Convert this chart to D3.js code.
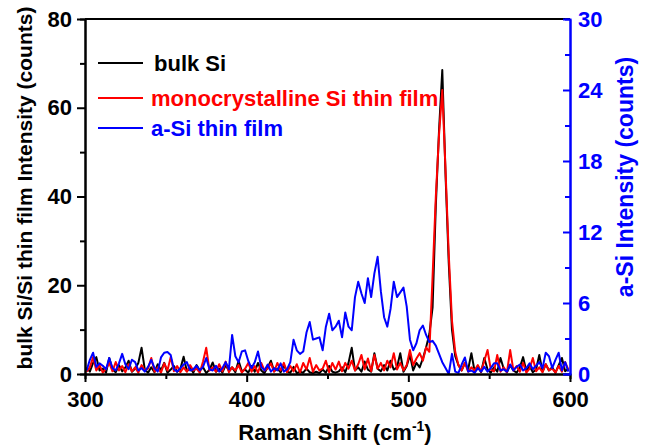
<!DOCTYPE html>
<html>
<head>
<meta charset="utf-8">
<script src="https://cdn.jsdelivr.net/npm/d3@7"></script>
<style>
  html, body { margin: 0; padding: 0; background: #fff; }
  svg text { font-family: "Liberation Sans", Arial, sans-serif; font-weight: bold; }
</style>
</head>
<body>
<svg id="chart" width="645" height="446"></svg>
<script>
// Raman shift grid (cm^-1)
const ramanShift = d3.range(301, 600, 2);

// bulk Si intensity (left axis, counts)
const bulkSi = [
  1.5, 0.5, 2.5, 3.8, 0.8, 1.2, 0.3, 3.6, 1.0, 0.4,
  2.0, 0.6, 1.5, 3.0, 0.5, 1.2, 2.5, 5.9, 1.0, 0.3,
  1.5, 0.4, 2.2, 0.8, 2.5, 0.3, 1.0, 1.8, 0.5, 1.2,
  3.9, 0.6, 1.4, 0.3, 2.0, 0.8, 1.5, 0.2, 1.0, 2.6,
  0.5, 1.2, 0.3, 2.0, 0.8, 1.5, 0.4, 3.0, 0.6, 1.0,
  0.3, 1.8, 0.5, 2.5, 0.8, 0.2, 1.5, 3.0, 0.6, 1.2,
  0.4, 2.0, 0.5, 0.3, 1.6, 0.2, 0.5, 0.3, 1.2, 0.4,
  0.2, 0.5, 0.2, 1.0, 0.3, 1.8, 0.5, 0.3, 0.6, 1.5,
  0.4, 2.5, 5.9, 0.8, 1.5, 0.5, 2.8, 1.0, 0.5, 4.7,
  1.2, 0.6, 2.0, 0.8, 3.0, 1.0, 1.5, 4.7, 0.5, 1.8,
  4.3, 0.8, 2.5, 1.5, 3.5, 6.0, 9.0, 15, 38, 55,
  68.5, 45, 25, 10, 4.0, 2.0, 0.8, 2.5, 1.0, 4.7,
  0.6, 1.8, 0.4, 3.6, 1.0, 0.3, 1.5, 0.5, 3.6, 1.2,
  0.4, 2.0, 0.8, 0.3, 1.5, 3.8, 0.6, 1.8, 0.4, 1.0,
  4.3, 0.5, 2.2, 0.8, 1.5, 0.3, 2.0, 3.6, 0.6, 1.2
];

// monocrystalline Si thin film intensity (left axis, counts)
const monoSi = [
  0.5, 1.5, 3.8, 0.8, 2.0, 0.3, 1.2, 2.5, 0.6, 2.7,
  0.8, 1.8, 0.4, 2.2, 0.6, 1.5, 0.3, 2.0, 0.8, 1.2,
  3.6, 0.5, 1.5, 0.3, 2.4, 0.8, 3.8, 0.6, 1.8, 0.4,
  1.5, 0.5, 2.0, 0.8, 1.2, 0.3, 2.8, 5.9, 0.8, 1.5,
  0.5, 2.2, 0.6, 2.8, 0.4, 1.5, 0.8, 2.0, 0.3, 1.2,
  2.5, 0.5, 1.8, 0.3, 2.5, 0.8, 1.2, 2.4, 0.5, 2.5,
  0.8, 2.5, 0.4, 1.8, 0.6, 2.2, 0.3, 2.5, 1.0, 3.6,
  0.5, 2.0, 0.8, 1.2, 3.0, 0.4, 2.5, 1.0, 2.8, 0.6,
  2.5, 1.2, 3.0, 0.8, 2.2, 4.3, 1.0, 3.5, 0.6, 4.3,
  1.2, 2.5, 0.8, 3.0, 1.5, 4.7, 1.0, 2.5, 0.8, 2.0,
  5.4, 2.0, 3.5, 4.7, 3.0, 6.0, 5.0, 22, 40, 54,
  64, 46, 27, 12, 5.0, 2.0, 0.8, 2.5, 0.5, 1.5,
  0.8, 2.0, 0.5, 3.0, 5.4, 1.0, 0.6, 4.3, 0.5, 1.5,
  0.4, 5.4, 0.8, 1.8, 0.5, 2.5, 0.3, 1.2, 3.6, 0.6,
  1.5, 0.4, 2.2, 0.8, 1.2, 0.3, 1.8, 0.5, 2.7, 1.0
];

// a-Si thin film intensity (right axis, counts)
const aSi = [
  0.3, 1.2, 1.8, 0.6, 0.9, 0.7, 0.4, 1.35, 0.5, 0.3,
  0.9, 1.7, 0.8, 0.4, 1.2, 1.0, 0.3, 0.5, 0.2, 0.6,
  1.2, 0.5, 0.2, 1.4, 1.8, 1.85, 1.6, 0.4, 0.2, 0.5,
  0.8, 1.0, 0.3, 0.4, 0.7, 0.3, 0.6, 1.35, 0.4, 0.3,
  0.7, 0.2, 0.5, 1.0, 0.4, 3.3, 1.5, 1.0, 1.9, 2.0,
  1.1, 0.5, 1.0, 1.9, 0.6, 0.3, 0.8, 0.2, 0.5, 0.3,
  0.9, 0.2, 0.4, 1.0, 2.9, 2.0, 1.7, 1.9, 3.5, 4.4,
  2.9, 3.0, 3.1, 2.0, 4.0, 5.1, 3.7, 4.0, 4.5, 3.1,
  5.2, 4.0, 3.7, 6.5, 7.8, 6.8, 6.0, 8.1, 6.5, 8.5,
  9.9, 7.0, 4.8, 4.0, 5.5, 7.8, 6.5, 6.9, 7.3, 5.7,
  2.9, 2.0, 2.6, 3.7, 4.1, 3.3, 2.7, 2.8, 2.4, 1.7,
  1.0, 0.5, 0.0, 1.7, 0.2, 0.1, 0.8, 1.4, 0.2, 0.3,
  0.1, 0.5, 0.2, 0.6, 0.2, 0.5, 0.9, 0.9, 0.3, 0.4,
  0.2, 0.8, 0.3, 0.6, 0.8, 0.3, 0.5, 0.9, 0.4, 0.7,
  1.0, 0.5, 1.8, 1.5, 0.5, 1.2, 1.8, 0.3, 1.0, 0.2
];

const xTicks = [300, 400, 500, 600];
const xMinor = [350, 450, 550];
const yLeftTicks = [0, 20, 40, 60, 80];
const yLeftMinor = [10, 30, 50, 70];
const yRightTicks = [0, 6, 12, 18, 24, 30];
const yRightMinor = [3, 9, 15, 21, 27];

const legendItems = [
  { label: "bulk Si", color: "#000000" },
  { label: "monocrystalline Si thin film", color: "#ff0000" },
  { label: "a-Si thin film", color: "#0000ff" }
];

const W = 645, H = 446;
const m = { left: 85, right: 75, top: 19, bottom: 72 };
const x0 = m.left, x1 = W - m.right, y0 = H - m.bottom, y1 = m.top;

const svg = d3.select("#chart");

const x = d3.scaleLinear().domain([300, 600]).range([x0, x1]);
const yL = d3.scaleLinear().domain([0, 80]).range([y0, y1]);
const yR = d3.scaleLinear().domain([0, 30]).range([y0, y1]);

svg.append("defs").append("clipPath").attr("id", "clip")
  .append("rect").attr("x", x0).attr("y", y1).attr("width", x1 - x0).attr("height", y0 - y1);

const plot = svg.append("g").attr("clip-path", "url(#clip)");

const lineL = d3.line().x((d, i) => x(ramanShift[i])).y(d => yL(d));
const lineR = d3.line().x((d, i) => x(ramanShift[i])).y(d => yR(d));

plot.append("path").datum(bulkSi).attr("d", lineL)
  .attr("fill", "none").attr("stroke", "#000").attr("stroke-width", 2).attr("stroke-linejoin", "round");
plot.append("path").datum(monoSi).attr("d", lineL)
  .attr("fill", "none").attr("stroke", "#ff0000").attr("stroke-width", 2).attr("stroke-linejoin", "round");
plot.append("path").datum(aSi).attr("d", lineR)
  .attr("fill", "none").attr("stroke", "#0000ff").attr("stroke-width", 2).attr("stroke-linejoin", "round");

function styleAxis(g, color) {
  g.selectAll("path.domain").attr("stroke", color).attr("stroke-width", 2);
  g.selectAll(".tick line").attr("stroke", color).attr("stroke-width", 2);
  g.selectAll(".tick text").attr("fill", color)
    .style("font-size", "22px").style("font-weight", "bold")
    .style("font-family", '"Liberation Sans", Arial, sans-serif');
}

// top border
svg.append("line").attr("x1", x0).attr("x2", x1).attr("y1", y1).attr("y2", y1)
  .attr("stroke", "#000").attr("stroke-width", 2);

// bottom axis
const gxMinor = svg.append("g").attr("transform", `translate(0,${y0})`)
  .call(d3.axisBottom(x).tickValues(xMinor).tickSize(5).tickFormat(""));
styleAxis(gxMinor, "#000");
const gx = svg.append("g").attr("transform", `translate(0,${y0})`)
  .call(d3.axisBottom(x).tickValues(xTicks).tickSize(8).tickPadding(9).tickFormat(d3.format("d")).tickSizeOuter(0));
styleAxis(gx, "#000");

// left axis
const gyMinor = svg.append("g").attr("transform", `translate(${x0},0)`)
  .call(d3.axisLeft(yL).tickValues(yLeftMinor).tickSize(5).tickFormat(""));
styleAxis(gyMinor, "#000");
const gy = svg.append("g").attr("transform", `translate(${x0},0)`)
  .call(d3.axisLeft(yL).tickValues(yLeftTicks).tickSize(8).tickPadding(5).tickSizeOuter(0));
styleAxis(gy, "#000");

// right axis (blue, inward ticks)
const gyrMinor = svg.append("g").attr("transform", `translate(${x1},0)`)
  .call(d3.axisRight(yR).tickValues(yRightMinor).tickSize(-5).tickFormat(""));
styleAxis(gyrMinor, "#0000ff");
const gyr = svg.append("g").attr("transform", `translate(${x1},0)`)
  .call(d3.axisRight(yR).tickValues(yRightTicks).tickSize(-7).tickPadding(8).tickSizeOuter(0));
styleAxis(gyr, "#0000ff");

// axis titles
svg.append("text")
  .attr("transform", `translate(32,188) rotate(-90)`)
  .attr("text-anchor", "middle").attr("fill", "#000")
  .style("font-size", "21px")
  .text("bulk Si/Si thin film Intensity (counts)");

svg.append("text")
  .attr("transform", `translate(633,177) rotate(-90)`)
  .attr("text-anchor", "middle").attr("fill", "#0000ff")
  .style("font-size", "23px")
  .text("a-Si Intensity (counts)");

const xt = svg.append("text")
  .attr("x", 335).attr("y", 440)
  .attr("text-anchor", "middle").attr("fill", "#000")
  .style("font-size", "22px");
xt.append("tspan").text("Raman Shift (cm");
xt.append("tspan").attr("dy", -9).style("font-size", "14px").text("-1");
xt.append("tspan").attr("dy", 9).text(")");

// legend
const legY = [63, 98, 128];
const legTx = [154, 151, 151];
legendItems.forEach((d, i) => {
  svg.append("line").attr("x1", 98).attr("x2", 143)
    .attr("y1", legY[i]).attr("y2", legY[i])
    .attr("stroke", d.color).attr("stroke-width", 2);
  svg.append("text").attr("x", legTx[i]).attr("y", legY[i] + 8)
    .attr("fill", d.color).style("font-size", "22px")
    .text(d.label);
});
</script>
</body>
</html>
